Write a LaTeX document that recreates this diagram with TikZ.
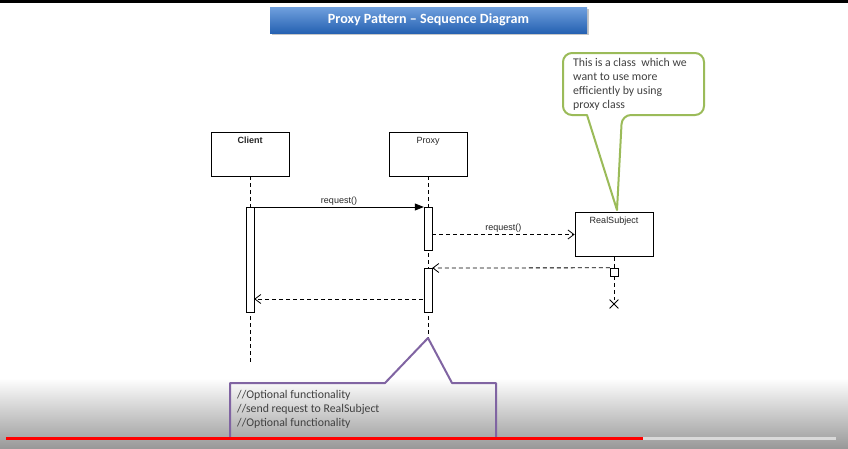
\documentclass[tikz,border=0pt]{standalone}
\usepackage{fontspec}
\setmainfont{Carlito}
\newfontfamily\umlfont{Liberation Sans}
\usetikzlibrary{shapes.misc, positioning, arrows.meta, shadows, calc}

\definecolor{calloutgreen}{HTML}{9BBB59}
\definecolor{calloutpurple}{HTML}{8064A2}
\definecolor{titletop}{RGB}{112,160,222}
\definecolor{titlebottom}{RGB}{38,98,178}

\begin{document}
\begin{tikzpicture}[x=1pt, y=-1pt,
    lifebox/.style={draw, thick, fill=white, minimum width=78pt, inner ysep=4pt,
        text height=7pt, text depth=29pt, text=black!85, font=\umlfont\fontsize{9}{11}\selectfont},
    bar/.style={draw, fill=white, minimum width=8pt, inner sep=0pt, anchor=north},
    life/.style={thick, dash pattern=on 4pt off 3pt},
    call/.style={thick, -{Triangle[length=9pt, width=7pt]}},
    ret/.style={thick, dash pattern=on 4pt off 3pt, -{Straight Barb[length=6pt, width=9pt]}},
    msglabel/.style={font=\umlfont\fontsize{9}{11}\selectfont, text=black!85, inner sep=1.5pt},
    note/.style={font=\fontsize{11.8}{14}\selectfont, text=black!75, align=left, anchor=north west, inner sep=0pt}]
    \useasboundingbox (0,0) rectangle (848,448);

    % Video player strips
    \fill[black] (0,0) rectangle (848,3);
    \shade[top color=white, bottom color=black!40] (0,378) rectangle (848,448);

    % Title
    \node[minimum width=317pt, minimum height=26pt, top color=titletop, bottom color=titlebottom,
        drop shadow={opacity=0.45, shadow xshift=1.5pt, shadow yshift=-1.5pt},
        text=white, font=\bfseries\fontsize{14.1}{16}\selectfont] (title) at (428.5,20)
        {Proxy Pattern -- Sequence Diagram};

    % Define lifeline boxes
    \node[lifebox, font=\umlfont\bfseries\fontsize{9}{11}\selectfont] (client) at (250,154) {Client};
    \node[lifebox] (proxy) at (428,154) {Proxy};
    \node[lifebox, minimum width=78pt] (real) at (614,234.5) {RealSubject};

    % Lifeline ends
    \coordinate (cend) at (250,365);
    \coordinate (ptip) at (428,338);
    \coordinate (gtip) at (617,210);
    \coordinate (back) at (423,299);

    % Draw lifelines
    \draw[life] (client.south) -- (cend);
    \draw[life] (proxy.south) -- (ptip);

    % Activation bars
    \node[bar, minimum height=105pt] (ca) at (250,207) {};
    \node[bar, minimum height=43pt] (pa1) at (428,207) {};
    \node[bar, minimum height=44pt] (pa2) at (428,268) {};
    \node[draw, fill=white, minimum size=8pt, inner sep=0pt] (rsq) at (614,272) {};
    \node[cross out, draw, thick, minimum size=8pt, inner sep=0pt] (rsend) at (614,304) {};
    \draw[life] (real.south) -- (rsq.north);
    \draw[life] (rsq.south) -- (rsend.north);

    % Draw messages
    \draw[call] (ca.north east) -- (pa1.north west)
        node[msglabel, midway, above] (m1) {request()};
    \draw[ret] (pa1.east |- real.west) -- (real.west)
        node[msglabel, midway, above] (m2) {request()};
    \draw[ret] (rsq.north west) -- (pa2.north east);
    \draw[ret] (back) -- (back -| ca.east);

    % Callout for RealSubject
    \draw[calloutgreen, line width=2pt, fill=white, line join=round]
        (587,115) [rounded corners=9pt] -- (563,115) -- (563,53) -- (704,53) -- (704,115)
        -- (622,115) [sharp corners] -- (gtip) -- cycle;
    \node[note] (greennote) at (573,58) {This is a class\ \ which we\\want to use more\\efficiently by using\\proxy class};

    % Callout for Proxy
    \draw[calloutpurple, line width=2pt, line join=round]
        (385,383) -- (230,383) -- (230,438) -- (496,438) -- (496,383) -- (452,383) -- (ptip) -- cycle;
    \node[note] (purplenote) at (237,390) {//Optional functionality\\//send request to RealSubject\\//Optional functionality};

    % Progress bar
    \fill[black!15] (643,437) rectangle (836,440);
    \fill[red] (6,437) rectangle (643,440);
\end{tikzpicture}
\end{document}
